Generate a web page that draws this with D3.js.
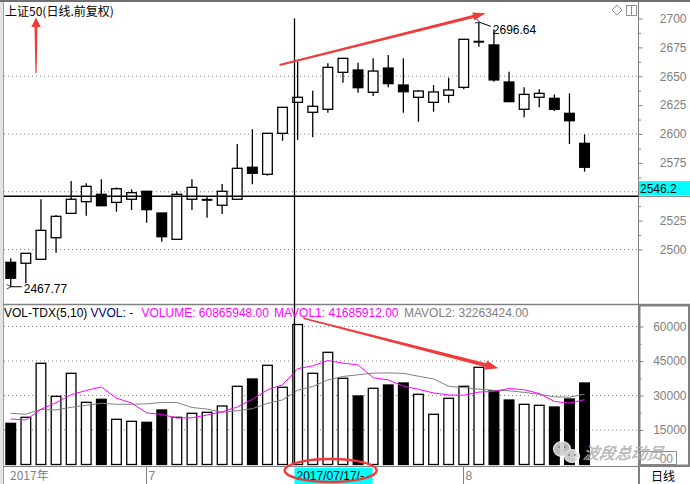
<!DOCTYPE html>
<html>
<head>
<meta charset="utf-8">
<script src="https://cdn.jsdelivr.net/npm/d3@7"></script>
<style>
  html, body { margin: 0; padding: 0; background: #fff; }
  svg { display: block; }
  text { font-family: "Liberation Sans", Arial, sans-serif; font-size: 12px; }
  .cjk { font-family: "Noto Sans CJK SC", sans-serif; }
</style>
</head>
<body>
<svg id="chart" width="690" height="484"></svg>
<script>
// données (SSE 50, journalier)
const dates = ["2017/06/20","2017/06/21","2017/06/22","2017/06/23","2017/06/26","2017/06/27","2017/06/28","2017/06/29","2017/06/30",
  "2017/07/03","2017/07/04","2017/07/05","2017/07/06","2017/07/07","2017/07/10","2017/07/11","2017/07/12","2017/07/13","2017/07/14",
  "2017/07/17","2017/07/18","2017/07/19","2017/07/20","2017/07/21","2017/07/24","2017/07/25","2017/07/26","2017/07/27","2017/07/28",
  "2017/07/31","2017/08/01","2017/08/02","2017/08/03","2017/08/04","2017/08/07","2017/08/08","2017/08/09","2017/08/10","2017/08/11"];
const open  = [2488.9,2488.1,2491.5,2510.2,2531.3,2541.4,2547.8,2540.8,2543.5,2550.4,2531.6,2508.8,2543.5,2543.0,2538.3,2543.5,2571.2,2565.1,2600.6,2627.4,
  2618.8,2621.4,2653.4,2655.4,2636.1,2657.1,2642.4,2631.8,2627.4,2633.5,2640.4,2679.9,2677.1,2645.0,2621.4,2631.8,2630.9,2617.9,2591.9];
const close = [2475.1,2496.7,2516.6,2528.7,2543.5,2554.7,2537.9,2552.6,2549.2,2534.5,2511.1,2547.8,2553.8,2543.0,2550.4,2570.3,2566.0,2600.6,2623.1,2631.8,
  2624.0,2657.7,2665.5,2640.1,2654.5,2643.6,2636.6,2637.2,2636.4,2638.1,2682.0,2679.9,2646.8,2628.0,2634.3,2635.2,2621.4,2611.5,2571.2];
const high  = [2492.4,2496.7,2543.5,2529.9,2559.3,2557.3,2560.8,2553.8,2552.1,2550.4,2531.6,2550.4,2560.8,2545.7,2556.7,2591.3,2604.1,2600.6,2623.1,2662.6,
  2637.5,2661.2,2665.5,2661.7,2665.5,2668.4,2665.5,2638.1,2642.4,2648.7,2682.0,2696.64,2690.6,2653.9,2640.4,2638.7,2634.3,2635.2,2599.7];
const low   = [2467.77,2470.7,2491.5,2497.2,2531.3,2529.3,2537.9,2532.7,2534.2,2523.2,2506.8,2508.8,2534.2,2527.5,2530.7,2543.5,2556.5,2563.9,2594.2,2594.8,
  2597.1,2618.4,2644.4,2635.8,2632.9,2640.4,2618.4,2610.6,2619.3,2627.1,2638.7,2675.6,2645.3,2628.0,2614.5,2623.1,2619.9,2591.3,2567.4];

// volume (actions)
const volume = [17910000,20520000,44000000,29650000,39650000,27040000,28350000,19650000,18780000,18350000,23700000,20520000,22260000,22700000,25440000,
  34000000,37170000,43130000,33570000,60865948,39650000,48780000,37480000,29780000,33130000,34570000,35440000,30520000,21830000,28780000,
  34000000,42260000,32090000,28040000,26170000,25740000,25000000,28480000,35440000];
const mavol1 = [19780000,19350000,24000000,26870000,30350000,32170000,33740000,28870000,26700000,22440000,21770000,20200000,20320000,21510000,22920000,
  24980000,28310000,32490000,34660000,41685912,42880000,45200000,44070000,43310000,37770000,36750000,34080000,32690000,31100000,30230000,
  30110000,31480000,31790000,33040000,32510000,30860000,27410000,26690000,28170000];
const mavol2 = [22260000,21830000,24000000,23700000,24870000,25740000,26610000,26170000,26170000,26390000,26970000,26970000,24800000,24100000,22680000,
  23370000,24260000,26600000,28080000,32263424,33930000,36760000,38280000,38990000,39760000,39810000,39640000,38380000,37200000,34000000,
  33430000,32780000,32240000,32070000,31370000,30490000,29440000,29240000,30600000];

const priceTicks = [2500,2525,2550,2575,2600,2625,2650,2675,2700];
const priceMinor = [2512.5,2537.5,2562.5,2587.5,2612.5,2637.5,2662.5,2687.5];
const priceGrid = [2500,2550,2600,2650];
const volTicks = [15000000,30000000,45000000,60000000];
const volMinor = [7500000,22500000,37500000,52500000];
const monthIdx = [0, 9, 30];
const monthText = ["2017年", "7", "8"];

const crossIdx = 19;         // 2017/07/17
const crossPrice = 2546.2;
const totalSlots = 42;

const svg = d3.select("#chart");
const W = 690, H = 484;
const axisX = 638.5;

// échelles
const x = d3.scaleBand()
  .domain(d3.range(totalSlots))
  .range([3.2, 3.2 + 15.1 * totalSlots])
  .paddingInner(0.36)
  .paddingOuter(0.18);
const bw = x.bandwidth();
const cx = i => x(i) + bw / 2;

const y = d3.scaleLinear().domain([2500, 2700]).range([249.5, 18.5]);
const yv = d3.scaleLinear().domain([0, 60000000]).range([464.5, 326.5]);

// cadre
svg.append("rect").attr("x", 0).attr("y", 0).attr("width", 3).attr("height", H).attr("fill", "#e4e4e4");
svg.append("line").attr("x1", 3.5).attr("x2", 3.5).attr("y1", 0).attr("y2", H).attr("stroke", "#a0a0a0");
svg.append("rect").attr("x", 0).attr("y", 0).attr("width", W).attr("height", 2).attr("fill", "#707070");
svg.append("line").attr("x1", 3).attr("x2", W).attr("y1", 304.5).attr("y2", 304.5).attr("stroke", "#808080").attr("stroke-width", 1.5);
svg.append("line").attr("x1", 3).attr("x2", W).attr("y1", 466.5).attr("y2", 466.5).attr("stroke", "#808080").attr("stroke-width", 1.2);
svg.append("line").attr("x1", axisX).attr("x2", axisX).attr("y1", 2).attr("y2", H).attr("stroke", "#808080");

// grilles pointillées
svg.append("g").selectAll("line").data(priceGrid).enter().append("line")
  .attr("x1", 4).attr("x2", axisX).attr("y1", d => y(d)).attr("y2", d => y(d))
  .attr("stroke", "#808080").attr("stroke-dasharray", "1,3");
svg.append("g").selectAll("line").data(volTicks).enter().append("line")
  .attr("x1", 4).attr("x2", axisX).attr("y1", d => yv(d)).attr("y2", d => yv(d))
  .attr("stroke", "#808080").attr("stroke-dasharray", "1,3");

// bougies
const candles = svg.append("g");
dates.forEach((d, i) => {
  const up = close[i] >= open[i];
  candles.append("line")
    .attr("x1", cx(i)).attr("x2", cx(i))
    .attr("y1", y(high[i])).attr("y2", y(low[i]))
    .attr("stroke", "#000").attr("stroke-width", 1.3);
  if (Math.abs(close[i] - open[i]) < 0.5) {
    candles.append("line")
      .attr("x1", x(i) - 0.5).attr("x2", x(i) + bw + 0.5)
      .attr("y1", y(close[i])).attr("y2", y(close[i]))
      .attr("stroke", "#000").attr("stroke-width", 2);
  } else {
    const top = y(Math.max(open[i], close[i]));
    const bot = y(Math.min(open[i], close[i]));
    candles.append("rect")
      .attr("x", x(i)).attr("width", bw)
      .attr("y", top).attr("height", bot - top)
      .attr("fill", up ? "#fff" : "#000")
      .attr("stroke", "#000").attr("stroke-width", 1.3);
  }
});

// barres de volume
svg.append("g").selectAll("rect").data(volume).enter().append("rect")
  .attr("x", (d, i) => x(i)).attr("width", bw)
  .attr("y", d => yv(d)).attr("height", d => yv(0) - yv(d))
  .attr("fill", (d, i) => close[i] >= open[i] ? "#fff" : "#000")
  .attr("stroke", "#000").attr("stroke-width", 1.3);

// moyennes mobiles
const lineV = d3.line().x((d, i) => cx(i)).y(d => yv(d));
svg.append("path").datum(mavol2).attr("d", lineV).attr("fill", "none").attr("stroke", "#808080").attr("stroke-width", 1);
svg.append("path").datum(mavol1).attr("d", lineV).attr("fill", "none").attr("stroke", "#ff00ff").attr("stroke-width", 1);

// axe des prix (l'étiquette cachée par le réticule n'est pas écrite)
const hidden = v => Math.abs(y(v) - y(crossPrice)) < 10;
const pAxis = svg.append("g").attr("transform", `translate(${axisX},0)`)
  .call(d3.axisRight(y).tickValues(priceTicks).tickSize(4).tickPadding(4)
    .tickFormat(v => hidden(v) ? "" : d3.format("d")(v)));
svg.append("g").attr("transform", `translate(${axisX},0)`)
  .call(d3.axisRight(y).tickValues(priceMinor).tickSize(2.5).tickFormat(""))
  .call(g => g.select(".domain").remove());
pAxis.select(".domain").remove();
pAxis.selectAll("text").attr("x", 48).attr("text-anchor", "end")
  .attr("fill", "#808080").style("font-size", "12px").style("font-family", "'Liberation Sans', Arial, sans-serif");
svg.selectAll(".tick line").attr("stroke", "#808080");

// axe du volume
const vAxis = svg.append("g").attr("transform", `translate(${axisX},0)`)
  .call(d3.axisRight(yv).tickValues(volTicks).tickSize(5).tickFormat(d => d / 1000));
svg.append("g").attr("transform", `translate(${axisX},0)`)
  .call(d3.axisRight(yv).tickValues(volMinor).tickSize(3).tickFormat(""))
  .call(g => g.select(".domain").remove())
  .selectAll("line").attr("stroke", "#808080");
vAxis.select(".domain").remove();
vAxis.selectAll("line").attr("stroke", "#808080");
vAxis.selectAll("text").attr("x", 48).attr("text-anchor", "end")
  .attr("fill", "#808080").style("font-size", "12px").style("font-family", "'Liberation Sans', Arial, sans-serif");
svg.append("rect").attr("x", 639.5).attr("y", 305.5).attr("width", 49.5).attr("height", 160)
  .attr("fill", "none").attr("stroke", "#808080").attr("stroke-width", 2);

// axe du temps
const months = svg.append("g");
monthIdx.forEach((m, k) => {
  const sx = k === 0 ? 3.5 : Math.round(cx(m) - 1) + 0.5;
  if (k > 0) {
    months.append("line").attr("x1", sx).attr("x2", sx).attr("y1", 467).attr("y2", H).attr("stroke", "#808080");
  }
  months.append("text").attr("class", k === 0 ? "cjk" : null)
    .attr("x", k === 0 ? 10 : sx + 2).attr("y", 480).attr("fill", "#808080").text(monthText[k]);
});
svg.append("line").attr("x1", 639.5).attr("x2", 639.5).attr("y1", 466).attr("y2", H).attr("stroke", "#808080");
svg.append("text").attr("class", "cjk").attr("x", 651).attr("y", 481).attr("fill", "#000").text("日线");

// réticule
const crossX = Math.round(cx(crossIdx) - 3.4) + 0.5;
svg.append("line").attr("x1", crossX).attr("x2", crossX).attr("y1", y(2700)).attr("y2", yv(0))
  .attr("stroke", "#000").attr("stroke-width", 1.3);
svg.append("line").attr("x1", 4).attr("x2", axisX).attr("y1", y(crossPrice)).attr("y2", y(crossPrice))
  .attr("stroke", "#000").attr("stroke-width", 1.5);
svg.append("line").attr("x1", axisX).attr("x2", W).attr("y1", y(crossPrice) + 0.5).attr("y2", y(crossPrice) + 0.5)
  .attr("stroke", "#808080");
svg.append("rect").attr("x", 639).attr("y", y(crossPrice) - 15).attr("width", 51).attr("height", 14.5).attr("fill", "#00ffff");
svg.append("text").attr("x", 640).attr("y", y(crossPrice) - 3.5).attr("fill", "#000").text(crossPrice.toFixed(1));
svg.append("rect").attr("x", crossX).attr("y", 467.5).attr("width", 78).attr("height", 16.5).attr("fill", "#00ffff");
svg.append("text").attr("x", crossX + 2).attr("y", 480).attr("fill", "#000").text(dates[crossIdx] + "/-");

// titres
svg.append("text").attr("class", "cjk").attr("x", 5).attr("y", 16).attr("fill", "#000").text("上证50(日线.前复权)");
const hdr = [
  { t: "VOL-TDX(5,10)", c: "#000", x: 4 },
  { t: "VVOL: -", c: "#000080", x: 90.5 },
  { t: "VOLUME: " + d3.format(".2f")(volume[crossIdx]), c: "#ff00ff", x: 141.5 },
  { t: "MAVOL1: " + d3.format(".2f")(mavol1[crossIdx]), c: "#ff00ff", x: 274 },
  { t: "MAVOL2: " + d3.format(".2f")(mavol2[crossIdx]), c: "#808080", x: 404 }
];
svg.append("g").selectAll("text").data(hdr).enter().append("text")
  .attr("x", d => d.x).attr("y", 317).attr("fill", d => d.c).text(d => d.t);

// extrêmes
const hiIdx = d3.maxIndex(high), loIdx = d3.minIndex(low);
svg.append("defs").append("marker").attr("id", "ah").attr("viewBox", "0 0 8 8").attr("refX", 1).attr("refY", 4)
  .attr("markerWidth", 6).attr("markerHeight", 6).attr("orient", "auto-start-reverse")
  .append("path").attr("d", "M7,1 L1,4 L7,7").attr("fill", "none").attr("stroke", "#000").attr("stroke-width", 1);
svg.append("line").attr("x1", cx(loIdx) + 11).attr("x2", cx(loIdx) + 0.5)
  .attr("y1", y(low[loIdx])).attr("y2", y(low[loIdx]))
  .attr("stroke", "#000").attr("stroke-width", 1).attr("marker-end", "url(#ah)");
svg.append("text").attr("x", cx(loIdx) + 13).attr("y", y(low[loIdx]) + 6).attr("fill", "#000").text(low[loIdx].toFixed(2));
svg.append("line").attr("x1", cx(hiIdx) + 12).attr("x2", cx(hiIdx) + 1)
  .attr("y1", y(high[hiIdx]) + 4).attr("y2", y(high[hiIdx]))
  .attr("stroke", "#000").attr("stroke-width", 1).attr("marker-end", "url(#ah)");
svg.append("text").attr("x", cx(hiIdx) + 14).attr("y", y(high[hiIdx]) + 12).attr("fill", "#000").text(high[hiIdx].toFixed(2));

// icônes en haut à droite
svg.append("path").attr("d", "M617,5 L622,10 L617,15 L612,10 Z").attr("fill", "none").attr("stroke", "#909090");
svg.append("rect").attr("x", 626.5).attr("y", 5.5).attr("width", 10).attr("height", 10).attr("fill", "none").attr("stroke", "#909090");
svg.append("line").attr("x1", 631.5).attr("x2", 631.5).attr("y1", 5.5).attr("y2", 15.5).attr("stroke", "#909090");

// flèches rouges (annotations)
function arrowPath(x1, y1, x2, y2, w1, w2, hl, hw) {
  const dx = x2 - x1, dy = y2 - y1, L = Math.hypot(dx, dy);
  const ux = dx / L, uy = dy / L, nx = -uy, ny = ux;
  const bx = x2 - ux * hl, by = y2 - uy * hl;
  const p = [
    [x1 + nx * w1 / 2, y1 + ny * w1 / 2], [bx + nx * w2 / 2, by + ny * w2 / 2], [bx + nx * hw / 2, by + ny * hw / 2],
    [x2, y2],
    [bx - nx * hw / 2, by - ny * hw / 2], [bx - nx * w2 / 2, by - ny * w2 / 2], [x1 - nx * w1 / 2, y1 - ny * w1 / 2]
  ];
  return "M" + p.map(q => q.join(",")).join("L") + "Z";
}
const red = "#ef3b3b";
svg.append("path").attr("d", arrowPath(36, 73, 36, 17.5, 1.2, 3, 9.5, 9.5)).attr("fill", red);
svg.append("path").attr("d", arrowPath(cx(18) - 3, y(2659.7), cx(31) + 7, y(2704.5), 2, 3.2, 13, 8)).attr("fill", red);
svg.append("path").attr("d", arrowPath(cx(19) + 5.7, yv(63560000), cx(32) + 4.4, yv(41830000), 1.5, 4, 13, 9.5)).attr("fill", red);
svg.append("ellipse").attr("cx", cx(crossIdx) + 33).attr("cy", 470.5).attr("rx", 46).attr("ry", 11.5)
  .attr("fill", "none").attr("stroke", red).attr("stroke-width", 2.5);

// filigrane
const wm = svg.append("g").attr("opacity", 0.9);
wm.append("rect").attr("x", 640.5).attr("y", 451.5).attr("width", 36).attr("height", 13).attr("fill", "none").attr("stroke", "#808080");
wm.append("text").attr("x", 673).attr("y", 463).attr("text-anchor", "end").attr("fill", "#808080").text("00");
wm.append("ellipse").attr("cx", 562).attr("cy", 449).attr("rx", 8.5).attr("ry", 7.5).attr("fill", "#d0d0d0").attr("stroke", "#fff").attr("stroke-width", 1.2);
wm.append("ellipse").attr("cx", 572).attr("cy", 456).attr("rx", 7.5).attr("ry", 6.5).attr("fill", "#e0e0e0").attr("stroke", "#fff").attr("stroke-width", 1.2);
[[559, 447], [565, 447], [569, 455], [575, 455]].forEach(p =>
  wm.append("circle").attr("cx", p[0]).attr("cy", p[1]).attr("r", 1).attr("fill", "#909090"));
wm.append("text").attr("class", "cjk").attr("x", 583).attr("y", 459)
  .style("font-size", "16px").style("font-style", "italic")
  .attr("fill", "#c4c4c4").attr("stroke", "#9a9a9a").attr("stroke-width", 0.4)
  .attr("transform", "skewX(-8) translate(64,0)")
  .text("波段总动员");
</script>
</body>
</html>
